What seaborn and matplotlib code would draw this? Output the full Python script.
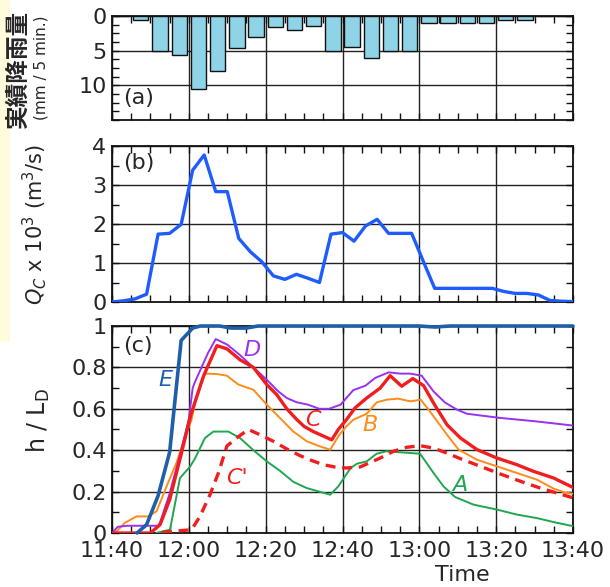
import numpy as np
import pandas as pd
import matplotlib
matplotlib.use("Agg")
import matplotlib.pyplot as plt
import seaborn as sns
from matplotlib.ticker import MultipleLocator, FixedLocator, FixedFormatter
from matplotlib.patches import Rectangle

sns.set_theme(style="white")
plt.rcParams['font.family'] = ['DejaVu Sans', 'Noto Sans CJK JP']
plt.rcParams['mathtext.fontset'] = 'dejavusans'

# x = minutes after 11:40
time_ticks = [0, 20, 40, 60, 80, 100, 120]
time_labels = ["11:40", "12:00", "12:20", "12:40", "13:00", "13:20", "13:40"]

# (a) rainfall, mm per 5 min
rain_edges = [0, 5, 10, 15, 20, 25, 30, 35, 40, 45, 50, 55, 60,
              65, 70, 75, 80, 85, 90, 95, 100, 105, 110, 115, 120]
rain_mid = [2.5, 7.5, 12.5, 17.5, 22.5, 27.5, 32.5, 37.5, 42.5, 47.5, 52.5, 57.5,
            62.5, 67.5, 72.5, 77.5, 82.5, 87.5, 92.5, 97.5, 102.5, 107.5, 112.5, 117.5]
rain_mm = [0, 0.6, 5.0, 5.6, 10.5, 8.0, 4.6, 3.1, 1.6, 2.0, 1.5, 5.0,
           4.4, 6.1, 5.0, 5.0, 1.0, 1.0, 1.0, 1.0, 0.6, 0.6, 0, 0]

# (b) discharge Qc x 10^3
q_t = [0, 3, 6, 9, 12, 15, 18, 21, 24, 27, 30, 33, 36, 39, 42, 45, 48, 51, 54, 57,
       60, 63, 66, 69, 72, 75, 78, 81, 84, 87, 90, 93, 96, 99, 102, 105, 108, 111,
       114, 117, 120]
q_val = [0.0, 0.03, 0.08, 0.20, 1.74, 1.76, 1.99, 3.38, 3.77, 2.83, 2.83, 1.63, 1.29,
         1.03, 0.67, 0.58, 0.71, 0.61, 0.50, 1.74, 1.78, 1.56, 1.95, 2.12, 1.76, 1.76,
         1.76, 1.05, 0.35, 0.35, 0.35, 0.35, 0.35, 0.35, 0.27, 0.22, 0.22, 0.18, 0.04,
         0.02, 0.01]

# (c) h / L_D
e_t = [6.5, 9, 12, 15, 18, 21, 23, 28, 31, 35, 38, 42, 50, 60, 80, 84, 88, 100, 120]
e_v = [0, 0.04, 0.18, 0.39, 0.93, 0.99, 1.0, 1.0, 0.99, 0.99, 1.0, 1.0, 1.0, 1.0,
       1.0, 0.995, 1.0, 1.0, 1.0]

d_t = [0, 1.5, 4, 8, 12, 12.5, 15, 18, 20, 21, 21.6, 23.3, 25, 27, 30, 33.3, 36.8,
       40.3, 43.3, 45.5, 48, 51, 54, 56.5, 59.5, 62.8, 66, 68.5, 72, 75, 77.6, 80.6,
       83.7, 86.7, 89.8, 92.4, 101, 110, 120]
d_v = [0, 0.03, 0.035, 0.035, 0.035, 0.05, 0.19, 0.40, 0.55, 0.70, 0.73, 0.80, 0.87,
       0.937, 0.91, 0.86, 0.80, 0.74, 0.684, 0.652, 0.632, 0.62, 0.60, 0.60, 0.62,
       0.69, 0.712, 0.749, 0.776, 0.77, 0.77, 0.76, 0.684, 0.63, 0.596, 0.576, 0.556,
       0.54, 0.519]

c_t = [0, 10, 12.5, 15, 18, 20.5, 23.8, 27.3, 29.9, 33.3, 36.8, 40.3, 42.9, 45.5,
       48, 50, 52.4, 57.2, 58.9, 61, 63.3, 66.3, 69.8, 72.4, 75.4, 78.3, 81.1, 83.7,
       87.2, 90.7, 95, 100.2, 105.4, 109.7, 114.9, 120]
c_v = [0, 0.0, 0.04, 0.16, 0.38, 0.57, 0.757, 0.905, 0.89, 0.837, 0.80, 0.717, 0.668,
       0.60, 0.55, 0.515, 0.49, 0.45, 0.50, 0.547, 0.605, 0.652, 0.70, 0.76, 0.709,
       0.746, 0.712, 0.628, 0.523, 0.459, 0.403, 0.362, 0.33, 0.298, 0.266, 0.22]

b_t = [0.8, 3.4, 6.4, 9.4, 11.6, 14.2, 16.8, 19, 20.7, 22, 24.2, 27.3, 29.9, 32.9,
       36.8, 40.3, 43.75, 47.2, 50.7, 54.2, 56.8, 58.9, 61, 62.8, 66.3, 68.9, 71.5,
       74.5, 77.6, 80.4, 83.7, 87.2, 90.2, 95, 100.2, 105.4, 110.6, 114.9, 118, 120]
b_v = [0, 0.05, 0.08, 0.08, 0.105, 0.225, 0.34, 0.467, 0.547, 0.66, 0.77, 0.768, 0.76,
       0.717, 0.692, 0.62, 0.555, 0.49, 0.443, 0.418, 0.402, 0.467, 0.515, 0.547,
       0.576, 0.631, 0.644, 0.649, 0.636, 0.644, 0.564, 0.475, 0.403, 0.354, 0.322,
       0.29, 0.258, 0.215, 0.195, 0.19]

a_t = [11.5, 15.1, 17.7, 20.3, 21.6, 24.2, 26.4, 30.3, 33.3, 36.8, 40.3, 43.75, 47.2,
       50.7, 56.8, 58.9, 62.1, 63.8, 66.3, 68.9, 71.5, 75, 80.2, 83.7, 86.3, 89.3,
       94.1, 100.2, 105.4, 110.6, 114.9, 120]
a_v = [0, 0.016, 0.266, 0.32, 0.36, 0.459, 0.49, 0.49, 0.459, 0.40, 0.346, 0.30,
       0.247, 0.217, 0.185, 0.225, 0.314, 0.335, 0.346, 0.383, 0.395, 0.39, 0.383,
       0.29, 0.225, 0.174, 0.137, 0.113, 0.089, 0.072, 0.053, 0.033]

cp_t = [13, 20.7, 22.9, 25.5, 27.7, 29.9, 32.5, 35.5, 38.5, 42, 45.5, 48.9, 52, 55,
        58, 61, 64.6, 69.8, 73.3, 76.7, 80.2, 83.7, 87.2, 90.7, 95.9, 101.1, 106.3,
        111.5, 115.8, 120]
cp_v = [0.003, 0.016, 0.08, 0.185, 0.29, 0.42, 0.46, 0.5, 0.475, 0.443, 0.406, 0.374,
        0.35, 0.33, 0.319, 0.314, 0.319, 0.362, 0.395, 0.414, 0.422, 0.41, 0.386,
        0.359, 0.322, 0.285, 0.25, 0.217, 0.193, 0.17]

c_ticks = [0, 0.2, 0.4, 0.6, 0.8, 1]
c_ticklabels = ["0", "0.2", "0.4", "0.6", "0.8", "1"]

W, H = 610, 587
fig = plt.figure(figsize=(W / 100, H / 100), dpi=100)

# pale yellow strip at left edge
fig.add_artist(Rectangle((0, 1 - 342 / H), 10 / W, 342 / H, transform=fig.transFigure,
                         facecolor='#fffbdc', edgecolor='none', zorder=0))

def px_axes(top, bottom):
    return fig.add_axes([112 / W, 1 - bottom / H, 461 / W, (bottom - top) / H])

ax_a = px_axes(16, 120)
ax_b = px_axes(146, 302)
ax_c = px_axes(326, 533)

# (a)
sns.histplot(x=rain_mid, weights=rain_mm, bins=rain_edges, shrink=0.8, ax=ax_a,
             color='#8fd3e6', edgecolor='#111111', linewidth=1.0, alpha=1, zorder=3)
ax_a.set_ylim(15, 0)
ax_a.yaxis.set_major_locator(FixedLocator([0, 5, 10]))
ax_a.yaxis.set_minor_locator(MultipleLocator(1.25))

# (b)
sns.lineplot(x=q_t, y=q_val, ax=ax_b, color='#1f5cff', linewidth=2.4, zorder=3)
ax_b.set_ylim(0, 4)
ax_b.yaxis.set_major_locator(MultipleLocator(1))
ax_b.yaxis.set_minor_locator(MultipleLocator(0.5))

# (c)
sns.lineplot(x=a_t, y=a_v, ax=ax_c, color='#1fa64f', linewidth=1.4, zorder=3)
sns.lineplot(x=b_t, y=b_v, ax=ax_c, color='#ff8c1a', linewidth=1.4, zorder=3)
sns.lineplot(x=d_t, y=d_v, ax=ax_c, color='#9a30f0', linewidth=1.4, zorder=3)
sns.lineplot(x=cp_t, y=cp_v, ax=ax_c, color='#f01e1e', linewidth=2.4,
             linestyle=(0, (3, 2)), zorder=4)
sns.lineplot(x=c_t, y=c_v, ax=ax_c, color='#f01e1e', linewidth=2.4, zorder=4)
sns.lineplot(x=e_t, y=e_v, ax=ax_c, color='#1f5faa', linewidth=2.6, zorder=5,
             clip_on=False)
ax_c.set_ylim(0, 1)
ax_c.yaxis.set_major_locator(FixedLocator(c_ticks))
ax_c.yaxis.set_major_formatter(FixedFormatter(c_ticklabels))
ax_c.yaxis.set_minor_locator(MultipleLocator(0.1))

labels = [("E", 13.8, 0.74, '#1f5faa'), ("D", 36.4, 0.885, '#9a30f0'),
          ("C", 52.3, 0.547, '#f01e1e'), ("B", 67.2, 0.523, '#ff8c1a'),
          ("C'", 32.6, 0.267, '#f01e1e'), ("A", 90.6, 0.233, '#1fa64f')]
for txt, x, y, col in labels:
    ax_c.text(x, y, txt, color=col, fontsize=16, style='italic', ha='center',
              va='center', zorder=6)

for ax, tag, ty in [(ax_a, "(a)", 0.21), (ax_b, "(b)", 0.89), (ax_c, "(c)", 0.905)]:
    ax.set_xlim(0, 120)
    ax.xaxis.set_major_locator(FixedLocator(time_ticks))
    ax.xaxis.set_minor_locator(MultipleLocator(5))
    ax.grid(True, which='major', color='#222222', linewidth=1.0, zorder=1)
    ax.set_axisbelow(True)
    ax.tick_params(which='both', direction='in', top=True, right=True, bottom=True,
                   left=True, labelsize=16, pad=4, color='#111111')
    ax.tick_params(which='minor', length=5, width=1.0)
    ax.tick_params(which='major', length=5, width=1.0)
    for s in ax.spines.values():
        s.set_color('#111111')
        s.set_linewidth(1.3)
    ax.set_xlabel('')
    ax.set_ylabel('')
    ax.text(0.025, ty, tag, transform=ax.transAxes, fontsize=16, ha='left',
            va='center', zorder=6)

ax_a.tick_params(labelbottom=False)
ax_b.tick_params(labelbottom=False)
ax_c.xaxis.set_major_formatter(FixedFormatter(time_labels))
ax_c.tick_params(axis='x', pad=6)

fig.text(18 / W, 1 - 69 / H, "実績降雨量", rotation=90, ha='center', va='center',
         fontsize=17, family=['Noto Sans CJK JP'], weight='bold')
fig.text(41 / W, 1 - 68 / H, "(mm / 5 min.)", rotation=90, ha='center', va='center',
         fontsize=11)
fig.text(35 / W, 1 - 224 / H, r"$Q_C$ x 10$^3$ (m$^3$/s)", rotation=90, ha='center',
         va='center', fontsize=15)
fig.text(38 / W, 1 - 420 / H, r"h / L$_\mathrm{D}$", rotation=90, ha='center',
         va='center', fontsize=17)
fig.text(462 / W, 1 - 575 / H, "Time", ha='center', va='center', fontsize=16)

fig.savefig("out.png", dpi=100)
